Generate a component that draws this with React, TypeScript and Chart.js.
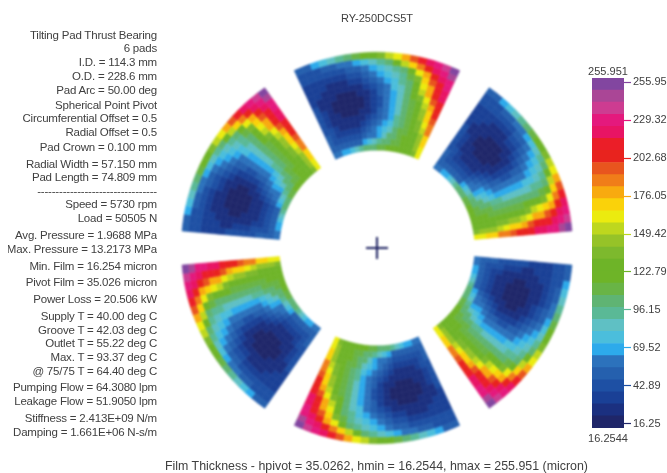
import React, { useEffect, useRef } from "react";
import { Chart, registerables } from "chart.js";

Chart.register(...registerables);

const TITLE = "RY-250DCS5T";
const CAPTION = "Film Thickness - hpivot = 35.0262, hmin = 16.2544, hmax = 255.951 (micron)";
const BAR_TOP_LABEL = "255.951";
const BAR_BOTTOM_LABEL = "16.2544";

const INFO_LINES = [
  "Tilting Pad Thrust Bearing", "6 pads", "I.D. = 114.3 mm", "O.D. = 228.6 mm", "Pad Arc = 50.00 deg",
  "Spherical Point Pivot", "Circumferential Offset = 0.5", "Radial Offset = 0.5", "Pad Crown = 0.100 mm",
  "Radial Width = 57.150 mm", "Pad Length = 74.809 mm", "---------------------------------",
  "Speed = 5730 rpm", "Load = 50505 N", "Avg. Pressure = 1.9688 MPa", "Max. Pressure = 13.2173 MPa",
  "Min. Film = 16.254 micron", "Pivot Film = 35.026 micron", "Power Loss = 20.506 kW",
  "Supply T = 40.00 deg C", "Groove T = 42.03 deg C", "Outlet T = 55.22 deg C", "Max. T = 93.37 deg C",
  "@ 75/75 T = 64.40 deg C", "Pumping Flow = 64.3080 lpm", "Leakage Flow = 51.9050 lpm",
  "Stiffness = 2.413E+09 N/m", "Damping = 1.661E+06 N-s/m",
];
const INFO_Y = [35, 48, 62, 76, 90, 105, 118, 132, 147, 164, 177, 191, 204, 218, 235, 249, 266, 282, 299, 316, 330, 343, 357, 371, 387, 401, 418, 432];

const COLORBAR_TICKS = [16.25, 42.89, 69.52, 96.15, 122.79, 149.42, 176.05, 202.68, 229.32, 255.95];

const PAD_COUNT = 6;
const PAD_ARC_CELL_DEG = 2.5;
const PAD_GAP_DEG = 10;

// Film thickness (micron) on one pad: rows run outer radius to inner radius, columns leading edge to trailing edge.
const PAD_FILM = [
  [48, 55, 65, 73, 85, 95, 104, 113, 122, 131, 140, 150, 161, 177, 195, 210, 220, 231, 241, 252],
  [44, 45, 47, 50, 54, 58, 63, 69, 76, 84, 92, 103, 128, 150, 167, 186, 206, 218, 231, 243],
  [40, 40, 41, 42, 44, 46, 49, 54, 60, 68, 75, 84, 92, 100, 128, 158, 178, 203, 219, 233],
  [38, 36, 36, 36, 37, 38, 41, 45, 51, 58, 66, 77, 87, 95, 108, 138, 172, 198, 213, 229],
  [38, 33, 31, 30, 29, 30, 32, 36, 42, 50, 59, 67, 78, 90, 103, 126, 160, 182, 209, 222],
  [38, 31, 27, 25, 24, 24, 25, 28, 34, 42, 52, 63, 73, 88, 102, 120, 150, 175, 203, 217],
  [38, 30, 25, 22, 20, 19, 20, 24, 30, 38, 48, 60, 71, 86, 101, 116, 137, 165, 194, 211],
  [39, 30, 24, 20, 18, 17, 18, 21, 27, 36, 46, 58, 68, 84, 101, 113, 127, 150, 177, 205],
  [40, 31, 24, 20, 18, 16, 18, 21, 27, 36, 46, 58, 68, 84, 100, 112, 124, 146, 172, 200],
  [41, 33, 26, 22, 20, 19, 20, 23, 29, 38, 48, 60, 69, 86, 102, 112, 122, 141, 166, 195],
  [43, 35, 29, 25, 23, 22, 24, 27, 33, 42, 52, 63, 72, 90, 105, 113, 122, 138, 161, 190],
  [46, 39, 33, 30, 28, 28, 30, 34, 40, 49, 58, 68, 78, 98, 106, 113, 121, 133, 156, 184],
  [48, 42, 38, 36, 35, 35, 38, 42, 48, 57, 66, 75, 88, 102, 108, 114, 121, 131, 148, 172],
  [51, 47, 44, 42, 42, 43, 46, 50, 56, 64, 72, 88, 99, 104, 109, 115, 122, 130, 148, 168],
  [55, 52, 50, 49, 50, 52, 55, 66, 76, 87, 97, 102, 106, 110, 114, 118, 123, 130, 145, 163],
  [60, 62, 66, 72, 78, 84, 91, 99, 103, 106, 109, 112, 115, 118, 121, 124, 127, 131, 140, 158],
];

const SCALE_MIN = 13.4;
const SCALE_MAX = 258.8;

// Colour bands, lowest film to highest film.
const BANDS = [
  "#1f2669", "#1b3080", "#1a4096", "#1e50a4", "#2560ae", "#2c72bc", "#2daaeb", "#4bbedc", "#5fc0c4", "#5ab996",
  "#5fb473", "#69b446", "#6eb428", "#6eb428", "#7db92d", "#96c328", "#bed71e", "#ebeb0f", "#fad20a", "#f8aa0f",
  "#f07d19", "#e8551e", "#e8231e", "#eb1e28", "#e81464", "#e4197d", "#cd3c91", "#aa4696", "#8246a0",
];

const bandColor = (v: number) => {
  const i = Math.floor(((v - SCALE_MIN) / (SCALE_MAX - SCALE_MIN)) * BANDS.length);
  return BANDS[Math.max(0, Math.min(BANDS.length - 1, i))];
};

const ringWeights = () => {
  const w: number[] = [];
  for (let p = 0; p < PAD_COUNT; p++) {
    PAD_FILM[0].forEach(() => w.push(PAD_ARC_CELL_DEG));
    w.push(PAD_GAP_DEG);
  }
  return w;
};

const ringColors = (row: number[]) => {
  const c: string[] = [];
  for (let p = 0; p < PAD_COUNT; p++) {
    row.forEach((v) => c.push(bandColor(v)));
    c.push("rgba(0,0,0,0)");
  }
  return c;
};

const crossPlugin = {
  id: "pivotCross",
  afterDraw(chart: any) {
    const { left, right, top, bottom } = chart.chartArea;
    const x = (left + right) / 2;
    const y = (top + bottom) / 2;
    const ctx = chart.ctx;
    ctx.save();
    ctx.strokeStyle = "#1c2060";
    ctx.lineWidth = 2;
    ctx.beginPath();
    ctx.moveTo(x - 11, y);
    ctx.lineTo(x + 11, y);
    ctx.moveTo(x, y - 11);
    ctx.lineTo(x, y + 11);
    ctx.stroke();
    ctx.restore();
  },
};

const textBase: React.CSSProperties = {
  position: "absolute",
  whiteSpace: "nowrap",
  fontFamily: "'Liberation Sans', Arial, sans-serif",
  color: "#404040",
  lineHeight: "14px",
  filter: "blur(0.3px)",
};

export default function App() {
  const padRef = useRef<HTMLCanvasElement>(null);
  const barRef = useRef<HTMLCanvasElement>(null);

  useEffect(() => {
    const weights = ringWeights();
    const padChart = new Chart(padRef.current!, {
      type: "doughnut",
      data: {
        datasets: PAD_FILM.map((row) => {
          const colors = ringColors(row);
          return { data: weights, backgroundColor: colors, borderColor: colors, borderWidth: 0.6 };
        }),
      },
      options: {
        responsive: false,
        animation: false,
        rotation: -25,
        cutout: "50%",
        layout: { padding: { left: 181, right: 94, top: 52, bottom: 29 } },
        plugins: { legend: { display: false }, tooltip: { enabled: false }, title: { display: false } },
      },
      plugins: [crossPlugin],
    } as any);

    const bandStep = (SCALE_MAX - SCALE_MIN) / BANDS.length;
    const barChart = new Chart(barRef.current!, {
      type: "bar",
      data: {
        labels: ["Film"],
        datasets: BANDS.map((color, i) => ({
          data: [i === 0 ? SCALE_MIN + bandStep : bandStep],
          backgroundColor: color,
          borderWidth: 0,
          barPercentage: 1,
          categoryPercentage: 1,
        })),
      },
      options: {
        responsive: false,
        animation: false,
        layout: { padding: { left: 12, right: 0, top: 18, bottom: 22 } },
        plugins: { legend: { display: false }, tooltip: { enabled: false } },
        scales: {
          x: { stacked: true, display: false },
          y: {
            stacked: true,
            position: "right",
            min: SCALE_MIN,
            max: SCALE_MAX,
            afterBuildTicks: (s: any) => {
              s.ticks = COLORBAR_TICKS.map((value) => ({ value }));
            },
            afterFit: (s: any) => {
              s.width = 43;
            },
            border: { display: false },
            grid: {
              drawOnChartArea: false,
              drawTicks: true,
              tickLength: 7,
              tickWidth: 1.2,
              tickColor: (c: any) => (c.tick ? bandColor(c.tick.value) : "#888"),
            },
            ticks: {
              padding: 2,
              autoSkip: false,
              color: "#404040",
              font: { family: "'Liberation Sans', Arial, sans-serif", size: 11 },
              callback: (v: any) => Number(v).toFixed(2),
            },
          },
        },
      },
    } as any);

    return () => {
      padChart.destroy();
      barChart.destroy();
    };
  }, []);

  return (
    <div style={{ position: "fixed", left: 0, top: 0, width: 667, height: 473, overflow: "hidden", background: "#fff" }}>
      <canvas ref={padRef} width={667} height={473} style={{ position: "absolute", left: 0, top: 0, filter: "blur(0.8px)" }} />
      <canvas ref={barRef} width={87} height={390} style={{ position: "absolute", left: 580, top: 60, filter: "blur(0.4px)" }} />
      <div style={{ position: "absolute", left: 8, top: 0, width: 149, height: 473, overflow: "hidden" }}>
        {INFO_LINES.map((line, i) => (
          <div key={i} style={{ ...textBase, fontSize: 11.5, letterSpacing: -0.2, right: 0, top: INFO_Y[i] - 7 }}>{line}</div>
        ))}
      </div>
      <div style={{ ...textBase, fontSize: 11, left: 0, width: 754, textAlign: "center", top: 11 }}>{TITLE}</div>
      <div style={{ ...textBase, fontSize: 12.4, left: 0, width: 753, textAlign: "center", top: 459 }}>{CAPTION}</div>
      <div style={{ ...textBase, fontSize: 11, left: 568, width: 80, textAlign: "center", top: 64 }}>{BAR_TOP_LABEL}</div>
      <div style={{ ...textBase, fontSize: 11, left: 568, width: 80, textAlign: "center", top: 431 }}>{BAR_BOTTOM_LABEL}</div>
    </div>
  );
}
